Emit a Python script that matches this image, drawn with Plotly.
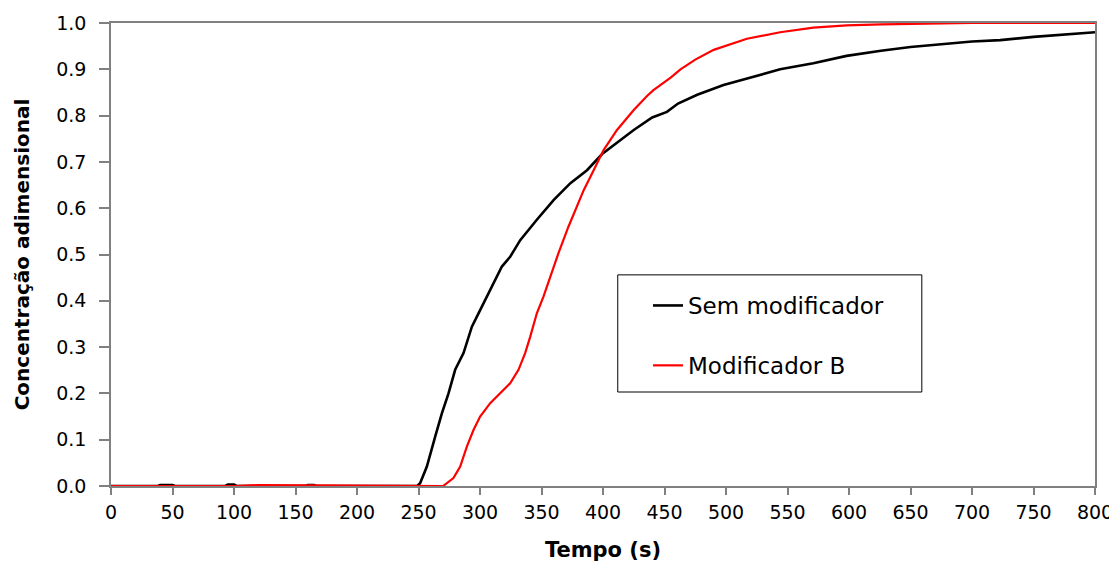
import plotly.graph_objects as go

# Sem modificador (black)
t_sem = [0, 38, 40, 50, 52, 93, 95, 100, 102, 158, 160, 165, 167, 249, 251.3, 256.8, 263.5, 269, 274.4,
         279.8, 286.6, 293.4, 298.8, 308.3, 317.8, 324.5, 332.7, 346.2, 360, 373.5, 387, 399.3,
         414, 425, 440, 452, 461, 476.6, 498, 517, 544, 571, 598, 626, 650, 700, 723, 750, 800]
c_sem = [0, 0, 0.002, 0.002, 0, 0, 0.003, 0.003, 0, 0, 0.002, 0.002, 0, 0, 0.006, 0.042, 0.106, 0.157, 0.200,
         0.251, 0.287, 0.344, 0.373, 0.423, 0.474, 0.495, 0.531, 0.575, 0.618, 0.654, 0.682, 0.717,
         0.747, 0.769, 0.796, 0.808, 0.826, 0.845, 0.866, 0.880, 0.900, 0.913, 0.929, 0.940, 0.948, 0.960,
         0.963, 0.970, 0.980]

# Modificador B (red)
t_mod = [0, 100, 120, 140, 160, 200, 270, 273, 278.4, 283.9, 289.3, 294.7, 300.1, 308.3, 316.4, 324.5,
         331.3, 336.7, 340.8, 346.2, 351.6, 357, 363.8, 371.9, 378, 384.3, 392.4, 400.6, 411.4,
         425, 436, 441, 455, 463, 475, 490, 517, 544, 571, 598, 626, 660, 700, 800]
c_mod = [0, 0, 0.002, 0.002, 0.001, 0.001, 0, 0.006, 0.017, 0.042, 0.085, 0.121, 0.150, 0.179, 0.200, 0.222,
         0.251, 0.287, 0.322, 0.373, 0.409, 0.452, 0.503, 0.560, 0.600, 0.639, 0.682, 0.726,
         0.769, 0.812, 0.843, 0.855, 0.882, 0.900, 0.921, 0.942, 0.966, 0.980, 0.990, 0.995, 0.997, 0.999,
         1.0, 1.0]

x_ticks = list(range(0, 801, 50))
y_ticks = [round(i * 0.1, 1) for i in range(11)]

FONT = "'DejaVu Sans', Verdana, sans-serif"

fig = go.Figure()
fig.add_trace(go.Scatter(x=t_sem, y=c_sem, mode="lines", name="Sem modificador",
                         line=dict(color="black", width=2.6), legendgroup="a"))
fig.add_trace(go.Scatter(x=t_mod, y=c_mod, mode="lines", name="Modificador B",
                         line=dict(color="#ff0000", width=2.2), legendgroup="b"))

# legend frame
fig.add_shape(type="rect", xref="paper", yref="paper", x0=0.515, x1=0.824, y0=0.203, y1=0.456,
              line=dict(color="black", width=1), fillcolor="rgba(0,0,0,0)", layer="below")

axis_common = dict(showline=True, linecolor="#808080", linewidth=1.5, mirror=True, showgrid=False,
                   zeroline=False, ticks="outside", tickcolor="#808080", tickwidth=1.5,
                   automargin=False,
                   tickfont=dict(family=FONT, size=19, color="black"))

# page body has an 8px margin: figure is sized/margined so the plot area lands at x 111-1095, y 23-486
fig.update_layout(
    width=1109, height=559,
    margin=dict(l=103, r=22, t=15, b=81),
    paper_bgcolor="white", plot_bgcolor="white",
    xaxis=dict(range=[0, 800], tickvals=x_ticks, ticklen=7, ticklabelstandoff=1,
               title=dict(text="Tempo (s)", font=dict(family=FONT, size=21, color="black", weight="bold"),
                          standoff=21),
               **axis_common),
    yaxis=dict(range=[0, 1.0], tickvals=y_ticks, tickformat=".1f", ticklen=10, ticklabelstandoff=9,
               title=dict(text="Concentração adimensional",
                          font=dict(family=FONT, size=20, color="black", weight="bold"), standoff=21),
               **axis_common),
    legend=dict(x=(648 - 111) / 984, y=(486 - 284) / 463, xanchor="left", yanchor="top",
                bgcolor="rgba(0,0,0,0)", borderwidth=0,
                font=dict(family=FONT, size=23, color="black"),
                tracegroupgap=27),
    showlegend=True,
)

fig.write_html("out.html")
